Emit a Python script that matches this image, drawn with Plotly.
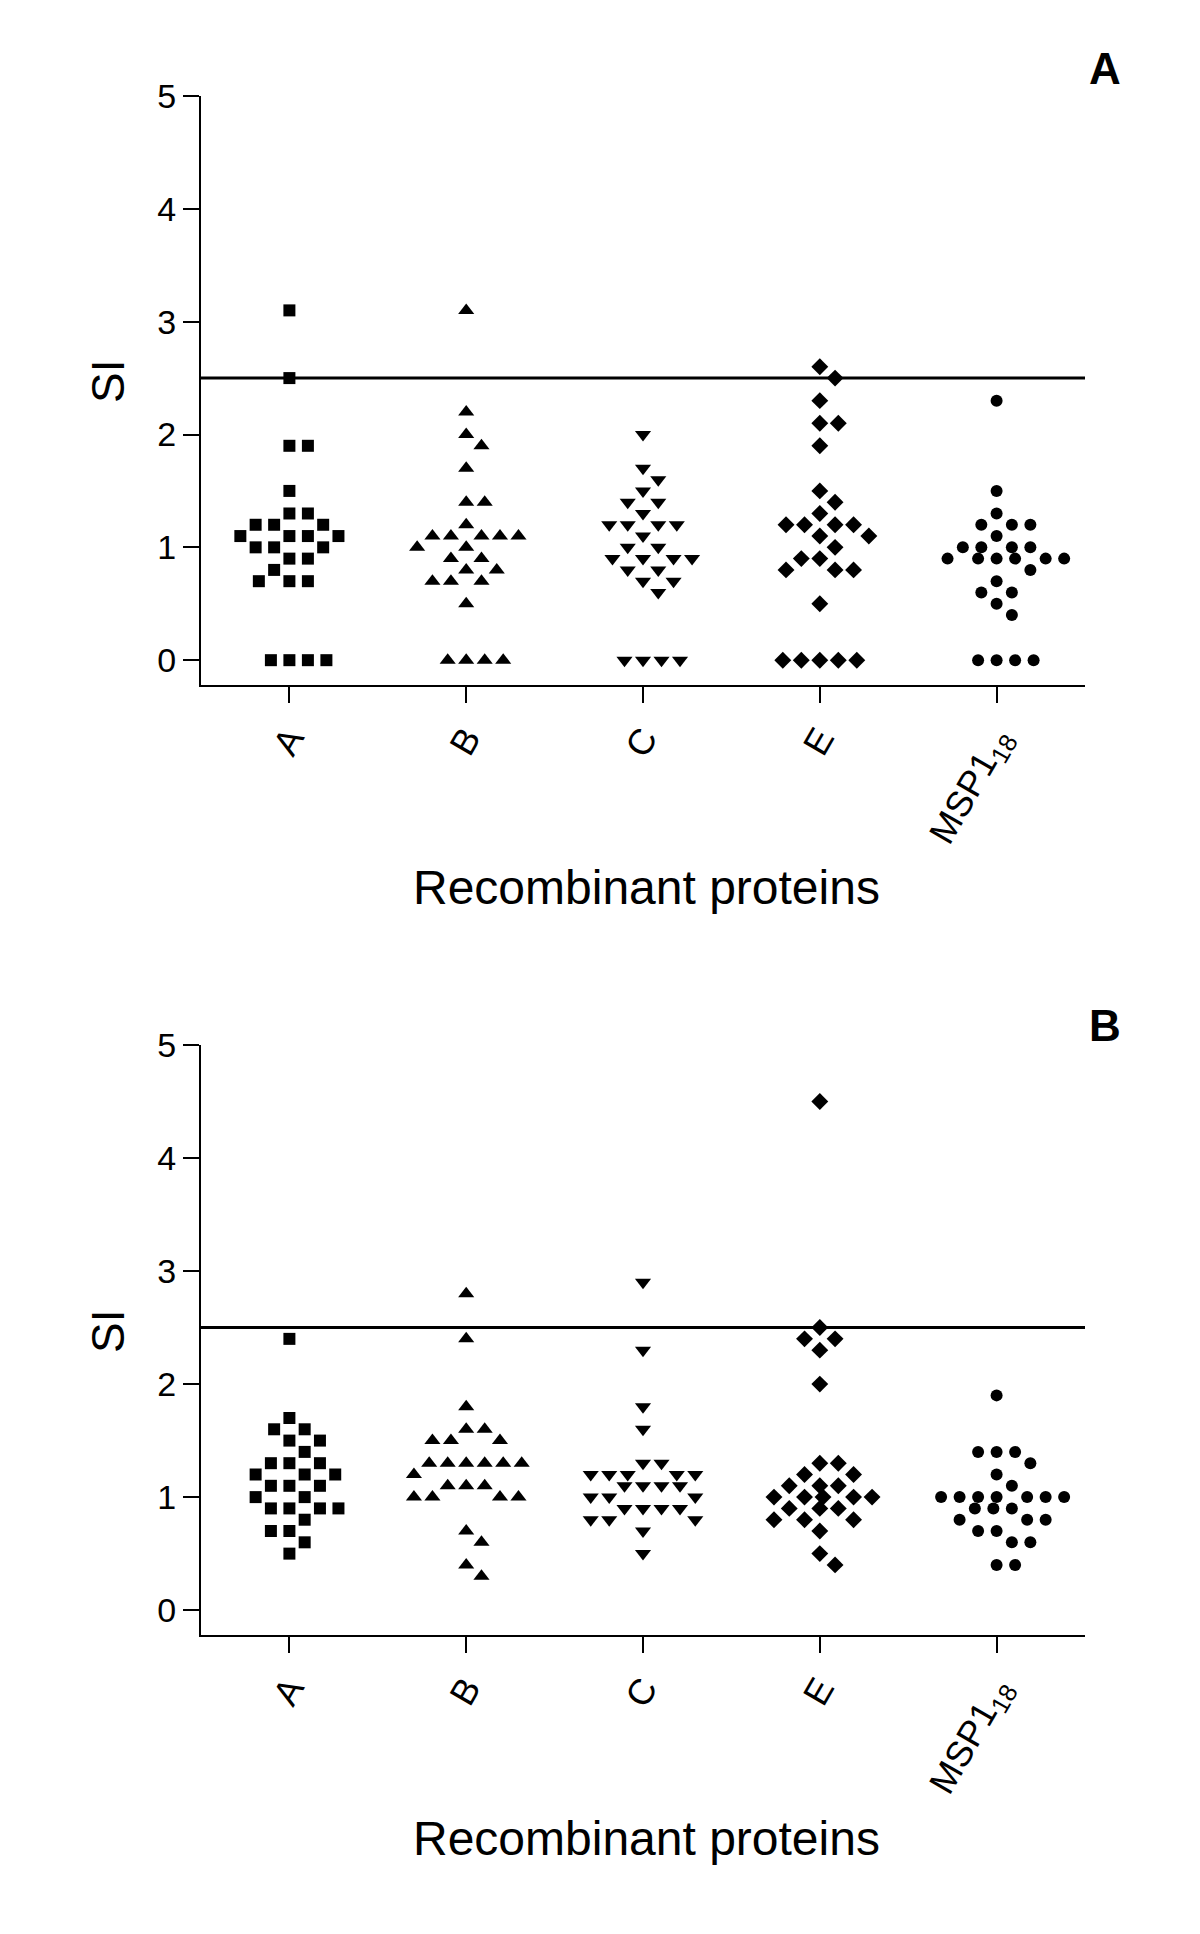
import math
import plotly.graph_objects as go
from plotly.subplots import make_subplots

# ---------------- data ----------------
categories = ["A", "B", "C", "E", "MSP1<sub>18</sub>"]
y_ticks = [0, 1, 2, 3, 4, 5]
threshold = 2.5

# Panel A
a_A = [3.1, 2.5, 1.9, 1.9, 1.5, 1.3, 1.3, 1.2, 1.2, 1.2, 1.1, 1.1, 1.1, 1.1,
       1.0, 1.0, 1.0, 0.9, 0.9, 0.8, 0.7, 0.7, 0.7, 0, 0, 0, 0]
a_B = [3.1, 2.2, 2.0, 1.9, 1.7, 1.4, 1.4, 1.2, 1.1, 1.1, 1.1, 1.1, 1.1,
       1.0, 1.0, 0.9, 0.9, 0.8, 0.8, 0.7, 0.7, 0.7, 0.5, 0, 0, 0, 0]
a_C = [2.0, 1.7, 1.6, 1.5, 1.4, 1.4, 1.3, 1.2, 1.2, 1.2, 1.2, 1.1, 1.0, 1.0,
       0.9, 0.9, 0.9, 0.9, 0.8, 0.8, 0.7, 0.7, 0.6, 0, 0, 0, 0]
a_E = [2.6, 2.5, 2.3, 2.1, 2.1, 1.9, 1.5, 1.4, 1.3, 1.2, 1.2, 1.2, 1.2, 1.1,
       1.1, 1.0, 0.9, 0.9, 0.8, 0.8, 0.8, 0.5, 0, 0, 0, 0, 0]
a_MSP = [2.3, 1.5, 1.3, 1.2, 1.2, 1.2, 1.1, 1.0, 1.0, 1.0, 1.0, 0.9, 0.9, 0.9,
         0.9, 0.9, 0.9, 0.8, 0.7, 0.6, 0.6, 0.5, 0.4, 0, 0, 0, 0]

# Panel B
b_A = [2.4, 1.7, 1.6, 1.6, 1.5, 1.5, 1.4, 1.3, 1.3, 1.3, 1.2, 1.2, 1.2, 1.1,
       1.1, 1.1, 1.0, 1.0, 0.9, 0.9, 0.9, 0.9, 0.8, 0.7, 0.7, 0.6, 0.5]
b_B = [2.8, 2.4, 1.8, 1.6, 1.6, 1.5, 1.5, 1.5, 1.3, 1.3, 1.3, 1.3, 1.3, 1.3,
       1.2, 1.1, 1.1, 1.1, 1.0, 1.0, 1.0, 1.0, 0.7, 0.6, 0.4, 0.3]
b_C = [2.9, 2.3, 1.8, 1.6, 1.3, 1.3, 1.2, 1.2, 1.2, 1.2, 1.2, 1.1, 1.1, 1.1,
       1.1, 1.0, 1.0, 1.0, 0.9, 0.9, 0.9, 0.9, 0.8, 0.8, 0.8, 0.7, 0.5]
b_E = [4.5, 2.5, 2.4, 2.4, 2.3, 2.0, 1.3, 1.3, 1.2, 1.2, 1.1, 1.1, 1.1, 1.0,
       1.0, 1.0, 1.0, 1.0, 0.9, 0.9, 0.9, 0.8, 0.8, 0.8, 0.7, 0.5, 0.4]
b_MSP = [1.9, 1.4, 1.4, 1.4, 1.3, 1.2, 1.1, 1.0, 1.0, 1.0, 1.0, 1.0, 1.0, 1.0,
         0.9, 0.9, 0.9, 0.8, 0.8, 0.8, 0.7, 0.7, 0.6, 0.6, 0.4, 0.4]

panel_A = [a_A, a_B, a_C, a_E, a_MSP]
panel_B = [b_A, b_B, b_C, b_E, b_MSP]
symbols = ["square", "triangle-up", "triangle-down", "diamond", "circle"]
sizes = [12, 14, 14, 13, 12]

# ---------------- layout geometry (target pixels) ----------------
W, H = 1200, 1934
OFF = 8  # page body margin


def px(xp):
    return (xp - OFF) / W


def py(yp):
    return 1 - (yp - OFF) / H


x_dom = [px(201), px(1085)]
yA_dom = [py(685), py(96)]
yB_dom = [py(1635), py(1045)]
Y_RANGE = [-0.22, 5.0]

px_per_cat = (x_dom[1] - x_dom[0]) * W / 5.0
px_per_unit = (yA_dom[1] - yA_dom[0]) * H / (Y_RANGE[1] - Y_RANGE[0])
SX = 18.5    # horizontal spacing between neighbours (px)
SY = 20.0    # vertical interaction reach (px)
MAXW = 56.0  # half-width beyond which neighbouring rows may stack


def _collide(c, y, placed, same_row_only):
    for (qx, qy) in placed:
        dy = abs(y - qy)
        if same_row_only:
            if dy < 1.0 and abs(c - qx) < SX - 0.01:
                return True
        elif ((c - qx) / SX) ** 2 + (dy / SY) ** 2 < 0.999:
            return True
    return False


def swarm_x(center, values):
    """Beeswarm: each point goes as close to the centre as possible without
    touching its neighbours; when a cluster gets too wide, points of adjacent
    rows are allowed to stack."""
    order = sorted(range(len(values)), key=lambda i: -values[i])
    placed = []
    out = [0.0] * len(values)
    key = lambda c: (round(abs(c), 3), -c)
    for i in order:
        y = values[i] * px_per_unit
        cands = [0.0]
        for (qx, qy) in placed:
            dy = abs(y - qy)
            if dy < SY:
                dx = SX * math.sqrt(1 - (dy / SY) ** 2)
                cands += [qx + dx, qx - dx]
        strict = [c for c in cands if abs(c) <= MAXW + 0.01
                  and not _collide(c, y, placed, False)]
        if strict:
            best = min(strict, key=key)
        else:
            extra = [k * SX / 2 for k in range(-10, 11)]
            extra += [qx + s for (qx, qy) in placed if abs(y - qy) < 1.0
                      for s in (SX, -SX)]
            relaxed = [c for c in cands + extra
                       if not _collide(c, y, placed, True)]
            best = min(relaxed, key=key)
        placed.append((best, y))
        out[i] = center + best / px_per_cat
    return out


fig = make_subplots(rows=2, cols=1)
for row, panel in ((1, panel_A), (2, panel_B)):
    for k, vals in enumerate(panel):
        fig.add_trace(go.Scatter(
            x=swarm_x(k, vals), y=vals, mode="markers", cliponaxis=False,
            marker=dict(symbol=symbols[k], size=sizes[k], color="black",
                        line=dict(width=0)),
            showlegend=False, hoverinfo="skip"), row=row, col=1)

font_family = "Liberation Sans, Arial, sans-serif"
axis_common = dict(showline=True, linecolor="black", linewidth=2,
                   ticks="outside", ticklen=16, tickwidth=2, tickcolor="black",
                   showgrid=False, zeroline=False, mirror=False, automargin=False)

for r, ydom in ((1, yA_dom), (2, yB_dom)):
    xa = "xaxis" if r == 1 else "xaxis2"
    ya = "yaxis" if r == 1 else "yaxis2"
    fig.layout[xa].update(domain=x_dom, range=[-0.5, 4.5], tickmode="array",
                          tickvals=list(range(5)), ticktext=categories,
                          tickangle=-60,
                          tickfont=dict(family=font_family, size=36, color="black"),
                          **axis_common)
    fig.layout[ya].update(domain=ydom, range=Y_RANGE, tickmode="array",
                          tickvals=y_ticks, ticktext=[str(t) for t in y_ticks],
                          tickfont=dict(family=font_family, size=34, color="black"),
                          **axis_common)
    xref = "x" if r == 1 else "x2"
    yref = "y" if r == 1 else "y2"
    fig.add_shape(type="line", xref=xref + " domain", yref=yref,
                  x0=0, x1=1, y0=threshold, y1=threshold,
                  line=dict(color="black", width=3))

# axis titles and panel letters
for sy, ty in ((382, 888), (1332, 1838)):
    fig.add_annotation(text="SI", xref="paper", yref="paper", x=px(108), y=py(sy),
                       xanchor="center", yanchor="middle",
                       showarrow=False, textangle=-90,
                       font=dict(family=font_family, size=46, color="black"))
    fig.add_annotation(text="Recombinant proteins", xref="paper", yref="paper",
                       x=px(646), y=py(ty), xanchor="center", yanchor="middle",
                       showarrow=False,
                       font=dict(family=font_family, size=48, color="black"))

for letter, ly in (("A", 68), ("B", 1025)):
    fig.add_annotation(text="<b>%s</b>" % letter, xref="paper", yref="paper",
                       x=px(1105), y=py(ly), xanchor="center", yanchor="middle",
                       showarrow=False,
                       font=dict(family="Liberation Sans, Arial", size=44, color="black"))

fig.update_layout(width=W, height=H, margin=dict(l=0, r=0, t=0, b=0, autoexpand=False),
                  plot_bgcolor="white", paper_bgcolor="white")

fig.write_html("out.html")
